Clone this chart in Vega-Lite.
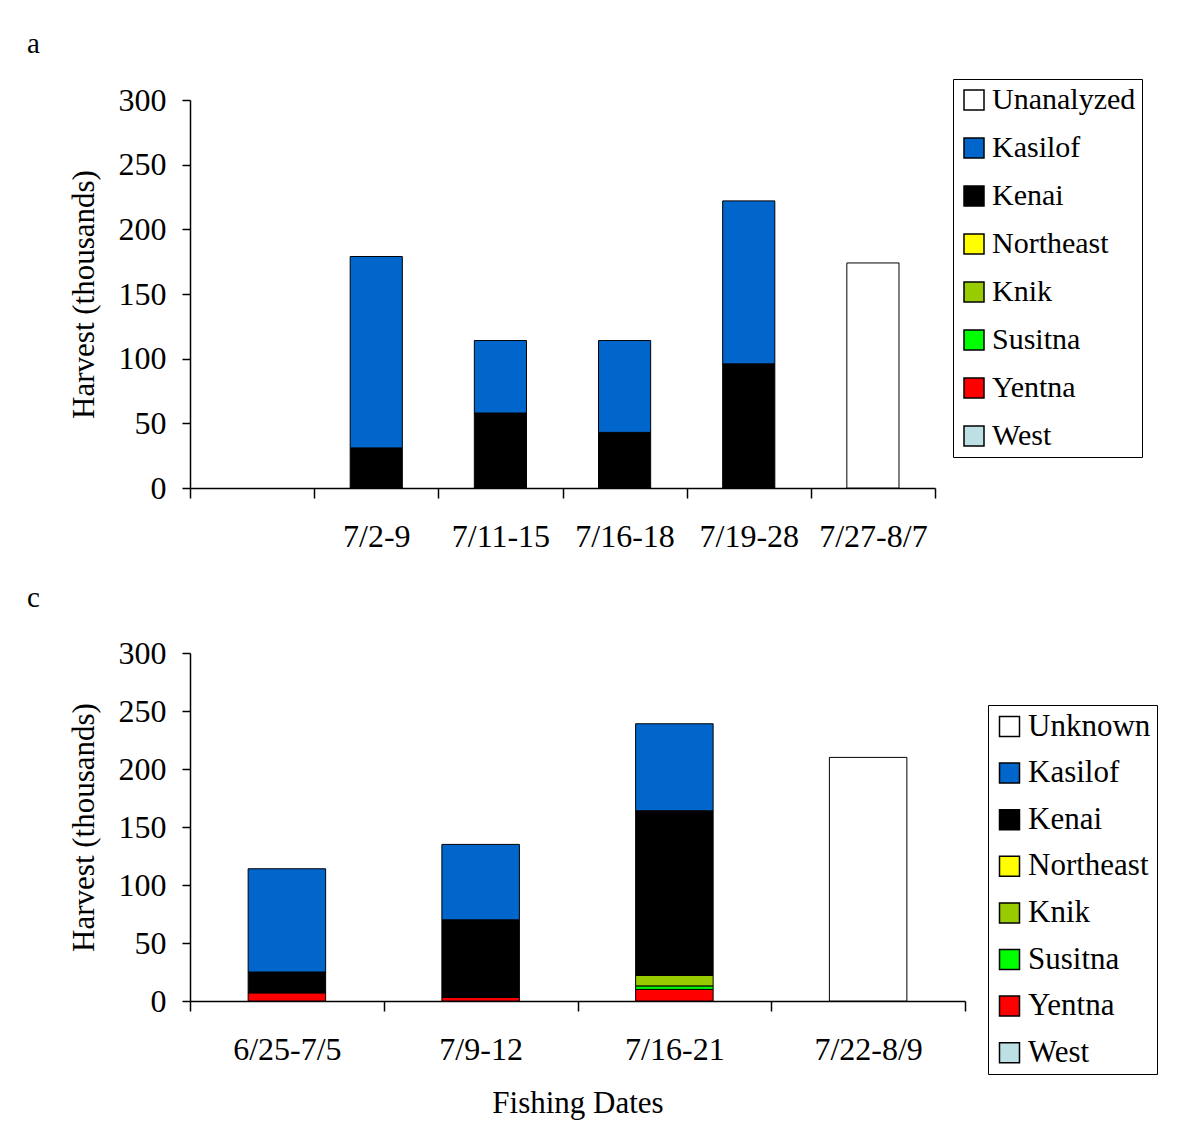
{
  "$schema": "https://vega.github.io/schema/vega-lite/v6.json",
  "background": "white",
  "padding": {"left": 27, "top": 29, "right": 5, "bottom": 5},
  "config": {
    "font": "Liberation Serif",
    "view": {"stroke": null},
    "axis": {
      "labelFont": "Liberation Serif",
      "titleFont": "Liberation Serif",
      "labelFontSize": 32,
      "titleFontSize": 31,
      "titleFontWeight": "normal",
      "labelColor": "black",
      "titleColor": "black",
      "domainColor": "black",
      "domainWidth": 1.5,
      "tickColor": "black",
      "tickWidth": 1.5,
      "grid": false
    },
    "axisY": {"tickSize": 8, "labelPadding": 16, "titlePadding": 18},
    "axisX": {"tickSize": 10, "labelPadding": 23, "labelAngle": 0, "tickBand": "extent"},
    "legend": {
      "labelFont": "Liberation Serif",
      "labelFontSize": 29,
      "labelColor": "black",
      "symbolType": "square",
      "symbolSize": 400,
      "symbolStrokeColor": "black",
      "symbolStrokeWidth": 1.5,
      "strokeColor": "black",
      "padding": 6,
      "labelOffset": 3,
      "orient": "none"
    },
    "title": {"font": "Liberation Serif", "fontSize": 29, "fontWeight": "normal", "color": "black", "anchor": "start", "frame": "bounds"}
  },
  "spacing": 32,
  "resolve": {"scale": {"color": "independent", "x": "independent", "y": "independent"}},
  "vconcat": [
    {
      "width": 745,
      "height": 388,
      "title": {"text": "a", "dx": -41, "offset": 20},
      "data": {"values": [
        {"date": "7/2-9", "region": "Kenai", "value": 31},
        {"date": "7/2-9", "region": "Kasilof", "value": 148},
        {"date": "7/11-15", "region": "Kenai", "value": 58},
        {"date": "7/11-15", "region": "Kasilof", "value": 56},
        {"date": "7/16-18", "region": "Kenai", "value": 43},
        {"date": "7/16-18", "region": "Kasilof", "value": 71},
        {"date": "7/19-28", "region": "Kenai", "value": 96},
        {"date": "7/19-28", "region": "Kasilof", "value": 126},
        {"date": "7/27-8/7", "region": "Unanalyzed", "value": 174}
      ]},
      "transform": [
        {"calculate": "indexof(['West','Yentna','Susitna','Knik','Northeast','Kenai','Kasilof','Unanalyzed'], datum.region)", "as": "rank"}
      ],
      "mark": {"type": "bar", "stroke": "black", "strokeWidth": 1, "width": {"band": 0.42}},
      "encoding": {
        "x": {
          "field": "date", "type": "nominal",
          "scale": {"domain": [" ", "7/2-9", "7/11-15", "7/16-18", "7/19-28", "7/27-8/7"], "paddingInner": 0, "paddingOuter": 0},
          "axis": {"title": null}
        },
        "y": {
          "field": "value", "type": "quantitative", "stack": "zero",
          "scale": {"domain": [0, 300], "nice": false},
          "axis": {"title": "Harvest (thousands)", "values": [0, 50, 100, 150, 200, 250, 300]}
        },
        "color": {
          "field": "region", "type": "nominal",
          "scale": {
            "domain": ["Unanalyzed", "Kasilof", "Kenai", "Northeast", "Knik", "Susitna", "Yentna", "West"],
            "range": ["#FFFFFF", "#0066CC", "#000000", "#FFFF00", "#99CC00", "#00FF00", "#FF0000", "#BCE0E4"]
          },
          "legend": {"title": null, "legendX": 763, "legendY": -21, "rowPadding": 18, "labelFontSize": 30}
        },
        "order": {"field": "rank", "type": "quantitative"}
      }
    },
    {
      "width": 775,
      "height": 348,
      "title": {"text": "c", "dx": -41, "offset": 24},
      "data": {"values": [
        {"date": "6/25-7/5", "region": "Yentna", "value": 7},
        {"date": "6/25-7/5", "region": "Kenai", "value": 18},
        {"date": "6/25-7/5", "region": "Kasilof", "value": 89},
        {"date": "7/9-12", "region": "Yentna", "value": 3},
        {"date": "7/9-12", "region": "Kenai", "value": 67},
        {"date": "7/9-12", "region": "Kasilof", "value": 65},
        {"date": "7/16-21", "region": "Yentna", "value": 10},
        {"date": "7/16-21", "region": "Susitna", "value": 3},
        {"date": "7/16-21", "region": "Knik", "value": 9},
        {"date": "7/16-21", "region": "Kenai", "value": 142},
        {"date": "7/16-21", "region": "Kasilof", "value": 75},
        {"date": "7/22-8/9", "region": "Unknown", "value": 210}
      ]},
      "transform": [
        {"calculate": "indexof(['West','Yentna','Susitna','Knik','Northeast','Kenai','Kasilof','Unknown'], datum.region)", "as": "rank"}
      ],
      "mark": {"type": "bar", "stroke": "black", "strokeWidth": 1, "width": {"band": 0.4}},
      "encoding": {
        "x": {
          "field": "date", "type": "nominal",
          "scale": {"domain": ["6/25-7/5", "7/9-12", "7/16-21", "7/22-8/9"], "paddingInner": 0, "paddingOuter": 0},
          "axis": {"title": "Fishing Dates", "titlePadding": 23}
        },
        "y": {
          "field": "value", "type": "quantitative", "stack": "zero",
          "scale": {"domain": [0, 300], "nice": false},
          "axis": {"title": "Harvest (thousands)", "values": [0, 50, 100, 150, 200, 250, 300]}
        },
        "color": {
          "field": "region", "type": "nominal",
          "scale": {
            "domain": ["Unknown", "Kasilof", "Kenai", "Northeast", "Knik", "Susitna", "Yentna", "West"],
            "range": ["#FFFFFF", "#0066CC", "#000000", "#FFFF00", "#99CC00", "#00FF00", "#FF0000", "#BCE0E4"]
          },
          "legend": {"title": null, "legendX": 798, "legendY": 52, "rowPadding": 14.6, "labelFontSize": 31}
        },
        "order": {"field": "rank", "type": "quantitative"}
      }
    }
  ]
}
